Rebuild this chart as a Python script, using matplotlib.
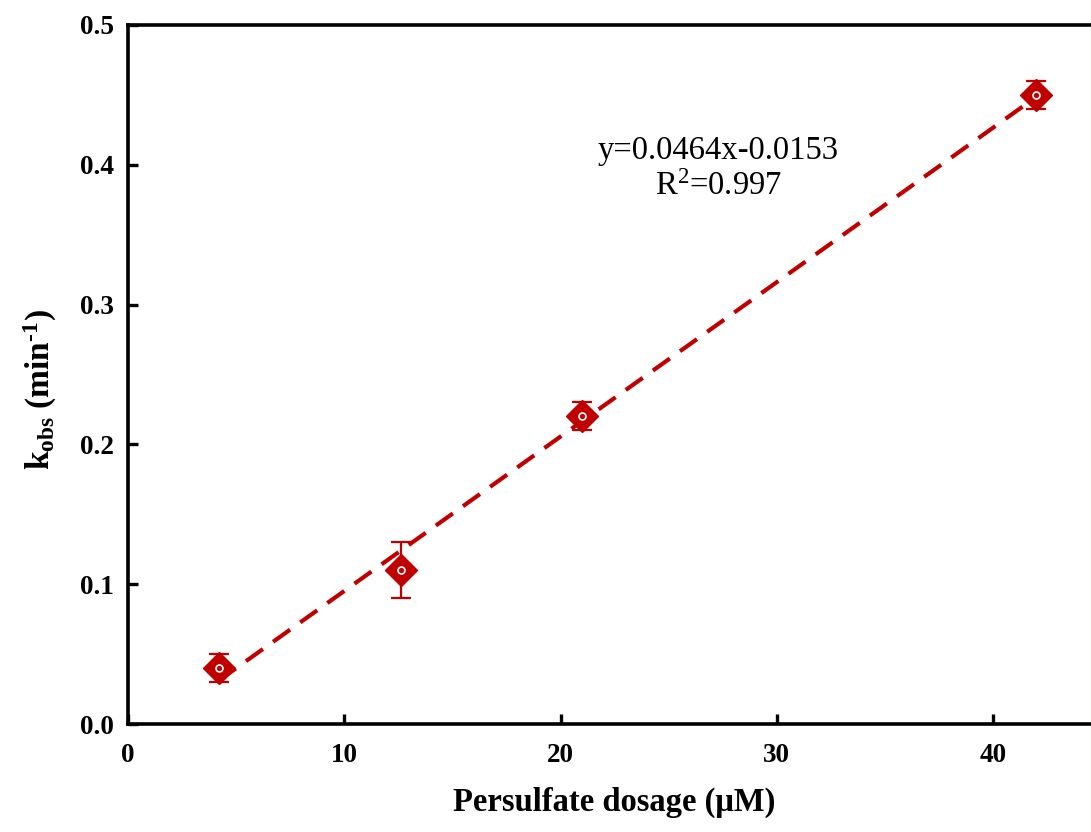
import matplotlib
matplotlib.use("Agg")
import matplotlib.pyplot as plt
import numpy as np

# Data
dosage = [4.2, 12.6, 21.0, 42.0]
kobs = [0.04, 0.11, 0.22, 0.45]
kobs_err = [0.01, 0.02, 0.01, 0.01]
fit_slope = 0.0464 / 4.2
fit_intercept = -0.0153
x_ticks = [0, 10, 20, 30, 40]
y_ticks = [0.0, 0.1, 0.2, 0.3, 0.4, 0.5]

plt.rcParams['font.family'] = ['Liberation Serif', 'DejaVu Serif']
plt.rcParams['mathtext.fontset'] = 'custom'
plt.rcParams['mathtext.rm'] = 'Liberation Serif'
plt.rcParams['mathtext.it'] = 'Liberation Serif:italic'
plt.rcParams['mathtext.bf'] = 'Liberation Serif:bold'

red = '#C00000'

fig = plt.figure(figsize=(10.91, 8.32), dpi=100)
ax = fig.add_axes([128/1091, 108/832, (45*21.63)/1091, (724-25)/832])

xf = np.array([dosage[0], dosage[-1]])
ax.plot(xf, fit_slope*xf + fit_intercept, color=red, lw=3, ls=(0, (5, 3)), zorder=2)

ax.errorbar(dosage, kobs, yerr=kobs_err, fmt='none', ecolor=red, elinewidth=1.6,
            capsize=7.5, capthick=1.6, zorder=3)
ax.plot(dosage, kobs, ls='none', marker='D', ms=16.5, mfc=red, mec=red, mew=1, zorder=4)
ax.plot(dosage, kobs, ls='none', marker='o', ms=5, mfc=red, mec='white', mew=1.2, zorder=5)

ax.set_xlim(0, 45)
ax.set_ylim(0, 0.5)
ax.set_xticks(x_ticks)
ax.set_yticks(y_ticks)
ax.set_xticklabels([str(v) for v in x_ticks], fontsize=19.5, fontweight='bold')
ax.set_yticklabels([f'{v:.1f}' for v in y_ticks], fontsize=19.5, fontweight='bold')
ax.tick_params(direction='in', length=7, width=2.4)
ax.tick_params(axis='x', pad=14)
ax.tick_params(axis='y', pad=10)
for s in ax.spines.values():
    s.set_linewidth(2.6)

ax.set_xlabel('Persulfate dosage (μM)', fontsize=23.5, fontweight='bold')
ax.xaxis.set_label_coords(0.5, -0.09)
ax.set_ylabel('$\\mathregular{k}_{\\mathregular{obs}}$ (min$^{\\mathregular{\u20101}}$)',
              fontsize=24, fontweight='bold')
ax.yaxis.set_label_coords(-0.071, 0.478)

ax.text(27.3, 0.41, 'y=0.0464x-0.0153', fontsize=23.5, ha='center', va='center')
ax.text(27.3, 0.384, 'R$^{\\mathregular{2}}$=0.997', fontsize=23.5, ha='center', va='center')

fig.savefig('out.png', dpi=100)
